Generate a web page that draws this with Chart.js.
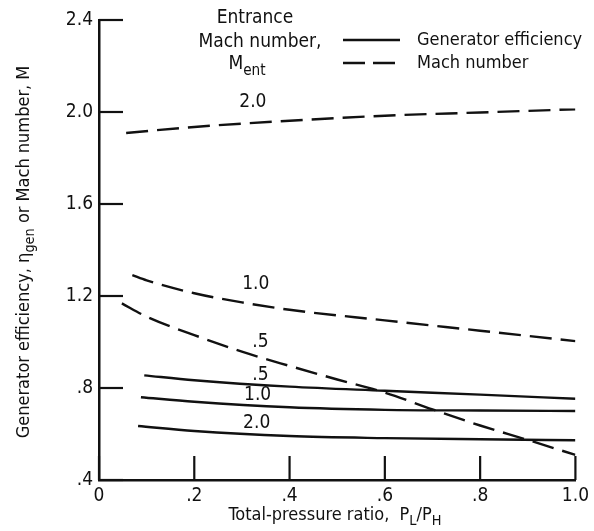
<!DOCTYPE html>
<html>
<head>
<meta charset="utf-8">
<script src="https://cdn.jsdelivr.net/npm/chart.js@4.4.1/dist/chart.umd.min.js"></script>
<style>
  html, body { margin: 0; padding: 0; background: #fff; }
  #wrap { width: 594px; height: 531px; position: relative; }
</style>
</head>
<body>
<div id="wrap"><canvas id="chart"></canvas></div>
<script>
const FONT = '"DejaVu Sans Condensed", "Liberation Sans Narrow", "DejaVu Sans", sans-serif';
const INK = '#111';

// tick values
const xTickValues = [0, 0.2, 0.4, 0.6, 0.8, 1.0];
const yTickValues = [0.4, 0.8, 1.2, 1.6, 2.0, 2.4];

// generator efficiency (solid)
const genX05 = [0.095, 0.2, 0.4, 0.6, 0.8, 1.0];
const genY05 = [0.855, 0.834, 0.806, 0.788, 0.771, 0.753];
const genX10 = [0.088, 0.2, 0.4, 0.6, 0.8, 1.0];
const genY10 = [0.760, 0.740, 0.716, 0.705, 0.702, 0.700];
const genX20 = [0.082, 0.2, 0.4, 0.6, 0.8, 1.0];
const genY20 = [0.635, 0.613, 0.591, 0.582, 0.577, 0.573];

// mach number (dashed)
const machX05 = [0.048, 0.1, 0.2, 0.3, 0.4, 0.5, 0.6, 0.7, 0.8, 0.9, 1.0];
const machY05 = [1.168, 1.110, 1.030, 0.958, 0.896, 0.837, 0.780, 0.707, 0.637, 0.574, 0.509];
const machX10 = [0.07, 0.1, 0.2, 0.3, 0.4, 0.6, 0.8, 1.0];
const machY10 = [1.291, 1.268, 1.212, 1.172, 1.140, 1.094, 1.049, 1.004];
const machX20 = [0.057, 0.2, 0.4, 0.6, 0.8, 1.0];
const machY20 = [1.909, 1.935, 1.962, 1.984, 1.998, 2.012];

// curve labels (entrance Mach number), anchored in data units
const labelText = ['2.0', '1.0', '.5', '.5', '1.0', '2.0'];
const labelX = [0.323, 0.329, 0.339, 0.339, 0.333, 0.331];
const labelY = [2.043, 1.252, 1.000, 0.857, 0.770, 0.648];

function pts(xs, ys) {
    return xs.map((x, i) => ({ x: x, y: ys[i] }));
}

function line(data, dashed) {
    return {
        data: data,
        showLine: true,
        borderColor: INK,
        borderWidth: 2.4,
        borderDash: dashed ? [22, 9] : [],
        pointRadius: 0,
        cubicInterpolationMode: 'monotone',
        fill: false
    };
}

function fmt(v) {
    if (v === 0) return '0';
    if (v < 1) return v.toFixed(1).replace('0.', '.');
    return v.toFixed(1);
}

// draw runs of [text, subscript?] centred on cx
function runsWidth(ctx, runs, size) {
    let w = 0;
    runs.forEach(r => {
        ctx.font = (r[1] ? size * 0.8 : size) + 'px ' + FONT;
        w += ctx.measureText(r[0]).width;
    });
    return w;
}

function drawRuns(ctx, runs, cx, cy, size) {
    let x = cx - runsWidth(ctx, runs, size) / 2;
    ctx.textAlign = 'left';
    ctx.textBaseline = 'middle';
    runs.forEach(r => {
        ctx.font = (r[1] ? size * 0.8 : size) + 'px ' + FONT;
        ctx.fillText(r[0], x, r[1] ? cy + size * 0.35 : cy);
        x += ctx.measureText(r[0]).width;
    });
}

const decor = {
    id: 'decor',
    afterDraw(chart) {
        const ctx = chart.ctx;
        const xs = chart.scales.x;
        const ys = chart.scales.y;
        const area = chart.chartArea;
        ctx.save();
        ctx.strokeStyle = INK;
        ctx.fillStyle = INK;
        ctx.lineWidth = 2.2;
        ctx.setLineDash([]);

        // inward ticks
        xTickValues.forEach(v => {
            const px = xs.getPixelForValue(v);
            ctx.beginPath();
            ctx.moveTo(px, area.bottom);
            ctx.lineTo(px, area.bottom - 24);
            ctx.stroke();
        });
        yTickValues.forEach(v => {
            const py = ys.getPixelForValue(v);
            ctx.beginPath();
            ctx.moveTo(area.left, py);
            ctx.lineTo(area.left + 24, py);
            ctx.stroke();
        });

        // curve labels
        ctx.font = '19px ' + FONT;
        ctx.textAlign = 'center';
        ctx.textBaseline = 'middle';
        labelText.forEach((t, i) => {
            ctx.fillText(t, xs.getPixelForValue(labelX[i]), ys.getPixelForValue(labelY[i]));
        });

        // legend heading
        drawRuns(ctx, [['Entrance', false]], 255, 18, 19);
        drawRuns(ctx, [['Mach number,', false]], 260, 42, 19);
        drawRuns(ctx, [['M', false], ['ent', true]], 247, 64, 19);

        // legend keys
        ctx.lineWidth = 2.4;
        ctx.beginPath();
        ctx.moveTo(343, 40);
        ctx.lineTo(400, 40);
        ctx.stroke();
        ctx.setLineDash([22, 8]);
        ctx.beginPath();
        ctx.moveTo(343, 63);
        ctx.lineTo(400, 63);
        ctx.stroke();
        ctx.setLineDash([]);
        ctx.font = '18px ' + FONT;
        ctx.textAlign = 'left';
        ctx.fillText('Generator efficiency', 417, 40);
        ctx.fillText('Mach number', 417, 63);

        // axis titles
        drawRuns(ctx, [['Total-pressure ratio,  P', false], ['L', true], ['/P', false], ['H', true]], 335, 515, 18);
        ctx.translate(24, 252);
        ctx.rotate(-Math.PI / 2);
        drawRuns(ctx, [['Generator efficiency, \u03b7', false], ['gen', true], [' or Mach number, M', false]], 0, 0, 18);
        ctx.restore();
    }
};

new Chart(document.getElementById('chart').getContext('2d'), {
    type: 'scatter',
    data: {
        datasets: [
            line(pts(genX05, genY05), false),
            line(pts(genX10, genY10), false),
            line(pts(genX20, genY20), false),
            line(pts(machX05, machY05), true),
            line(pts(machX10, machY10), true),
            line(pts(machX20, machY20), true)
        ]
    },
    options: {
        responsive: true,
        maintainAspectRatio: false,
        animation: false,
        layout: { padding: { top: 20, right: 13, left: 0, bottom: 0 } },
        plugins: {
            legend: { display: false },
            tooltip: { enabled: false }
        },
        scales: {
            x: {
                type: 'linear',
                min: 0,
                max: 1.0,
                afterFit(scale) { scale.height = 51; },
                afterBuildTicks(scale) { scale.ticks = xTickValues.map(v => ({ value: v })); },
                grid: { display: false, drawTicks: false },
                border: { display: true, color: INK, width: 2.5 },
                ticks: {
                    padding: 5,
                    color: INK,
                    font: { family: FONT, size: 19 },
                    maxRotation: 0,
                    callback: v => fmt(v)
                }
            },
            y: {
                type: 'linear',
                min: 0.4,
                max: 2.4,
                afterFit(scale) { scale.width = 99; },
                afterBuildTicks(scale) { scale.ticks = yTickValues.map(v => ({ value: v })); },
                grid: { display: false, drawTicks: false },
                border: { display: true, color: INK, width: 2.5 },
                ticks: {
                    padding: 6,
                    color: INK,
                    font: { family: FONT, size: 19 },
                    callback: v => fmt(v)
                }
            }
        }
    },
    plugins: [decor]
});
</script>
</body>
</html>
